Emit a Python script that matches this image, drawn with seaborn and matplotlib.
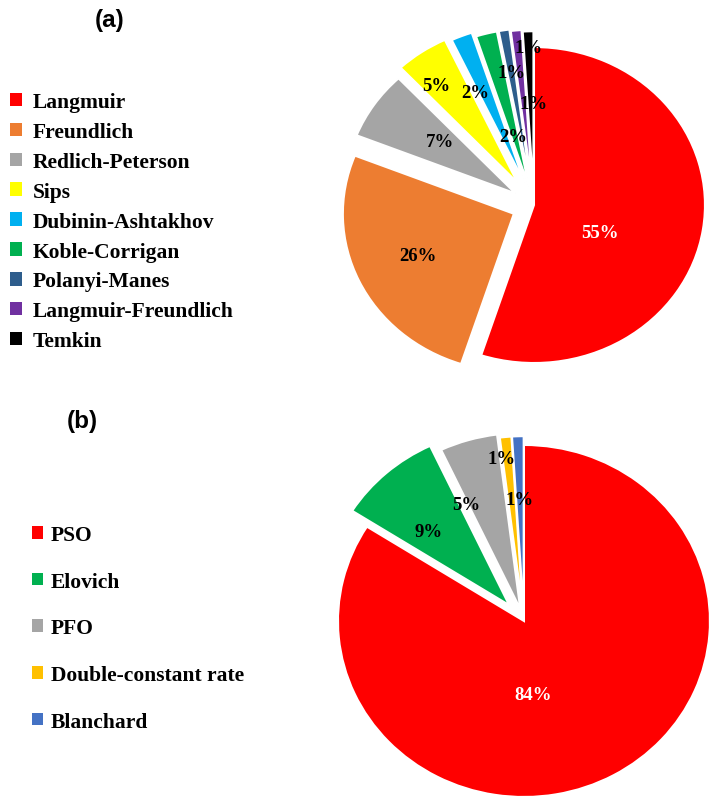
import matplotlib
matplotlib.use("Agg")
import matplotlib.pyplot as plt
from matplotlib.patches import Patch
import seaborn as sns
import numpy as np

sns.set_theme(style="white")
plt.rcParams['font.family'] = ['Liberation Serif', 'DejaVu Serif']
plt.rcParams['text.color'] = 'black'

# ---------------- data ----------------
iso_labels = ["Langmuir", "Freundlich", "Redlich-Peterson", "Sips",
              "Dubinin-Ashtakhov", "Koble-Corrigan", "Polanyi-Manes",
              "Langmuir-Freundlich", "Temkin"]
iso_values = [55, 26, 7, 5, 2, 2, 1, 1, 1]

kin_labels = ["PSO", "Elovich", "PFO", "Double-constant rate", "Blanchard"]
kin_values = [84, 9, 5, 1, 1]

# ---------------- styles ----------------
iso_colors = ["#FF0000", "#ED7D31", "#A5A5A5", "#FFFF00", "#00B0F0",
              "#00B050", "#2E5D8C", "#7030A0", "#000000"]
kin_colors = ["#FF0000", "#00B050", "#A5A5A5", "#FFC000", "#4472C4"]

iso_explode = [0, 0.13, 0.13, 0.17, 0.15, 0.12, 0.12, 0.11, 0.10]
kin_explode = [0, 0.12, 0.07, 0.05, 0.05]

iso_lab_dist = [0.42, 0.75, 0.68, 0.95, 0.79, 0.45, 0.85, 0.645, 1.0]
iso_lab_off = [-15, 0, -2, 3, 4, 1, 0, -5, 0]
iso_lab_col = ["white"] + ["black"] * 8

kin_lab_dist = [0.42, 0.72, 0.73, 0.93, 0.69]
kin_lab_off = [-22, 4, 9, 2, 0]
kin_lab_col = ["white"] + ["black"] * 4

W, H = 722, 804
fig = plt.figure(figsize=(W / 100, H / 100), dpi=100)
fig.patch.set_facecolor("white")


def draw_pie(rect, values, colors, explode, xlim, ylim, dists, offs, lcols):
    ax = fig.add_axes(rect)
    wedges, texts, autotexts = ax.pie(
        values, colors=colors, explode=explode, startangle=90,
        counterclock=False, autopct=lambda p: f"{p:.0f}%", pctdistance=0.6,
        wedgeprops=dict(edgecolor="white", linewidth=1.5),
        textprops=dict(fontsize=13.5, fontweight="bold",
                       family=["Liberation Serif", "DejaVu Serif"]))
    ax.set_aspect("auto")
    ax.set_xlim(xlim)
    ax.set_ylim(ylim)
    ax.axis("off")
    for w, t, d, off, c in zip(wedges, autotexts, dists, offs, lcols):
        mid = np.deg2rad((w.theta1 + w.theta2) / 2 + off)
        t.set_position((d * np.cos(mid), d * np.sin(mid)))
        t.set_color(c)
        t.set_ha("center")
        t.set_va("center")
        w.set_clip_on(False)
    return ax


draw_pie([0.4317, 0.5276, 0.5684, 0.4716], iso_values, iso_colors, iso_explode,
         (-1.3, 1.1), (-1.1, 1.3), iso_lab_dist, iso_lab_off, iso_lab_col)
draw_pie([0.4166, 0.0031, 0.5796, 0.486], kin_values, kin_colors, kin_explode,
         (-1.2, 1.05), (-1.02, 1.2), kin_lab_dist, kin_lab_off, kin_lab_col)

leg_font = dict(family="Liberation Serif", weight="bold", size=15.5)

iso_handles = [Patch(facecolor=c, edgecolor="none") for c in iso_colors]
fig.legend(handles=iso_handles, labels=iso_labels, loc="upper left",
           bbox_to_anchor=(10 / W, 1 - 93 / H), frameon=False, prop=leg_font,
           handlelength=0.58, handleheight=0.58, handletextpad=0.46,
           labelspacing=0.46, borderpad=0, borderaxespad=0, labelcolor="black")

kin_handles = [Patch(facecolor=c, edgecolor="none") for c in kin_colors]
fig.legend(handles=kin_handles, labels=kin_labels, loc="upper left",
           bbox_to_anchor=(32 / W, 1 - 526 / H), frameon=False, prop=leg_font,
           handlelength=0.53, handleheight=0.53, handletextpad=0.33,
           labelspacing=1.24, borderpad=0, borderaxespad=0, labelcolor="black")

fig.text(110 / W, 1 - 21 / H, "(a)", ha="center", va="center", color="black",
         family=["Liberation Sans", "DejaVu Sans"], fontweight="bold", fontsize=17.5)
fig.text(82 / W, 1 - 422 / H, "(b)", ha="center", va="center", color="black",
         family=["Liberation Sans", "DejaVu Sans"], fontweight="bold", fontsize=17.5)

fig.savefig("out.png", dpi=100, facecolor="white")
